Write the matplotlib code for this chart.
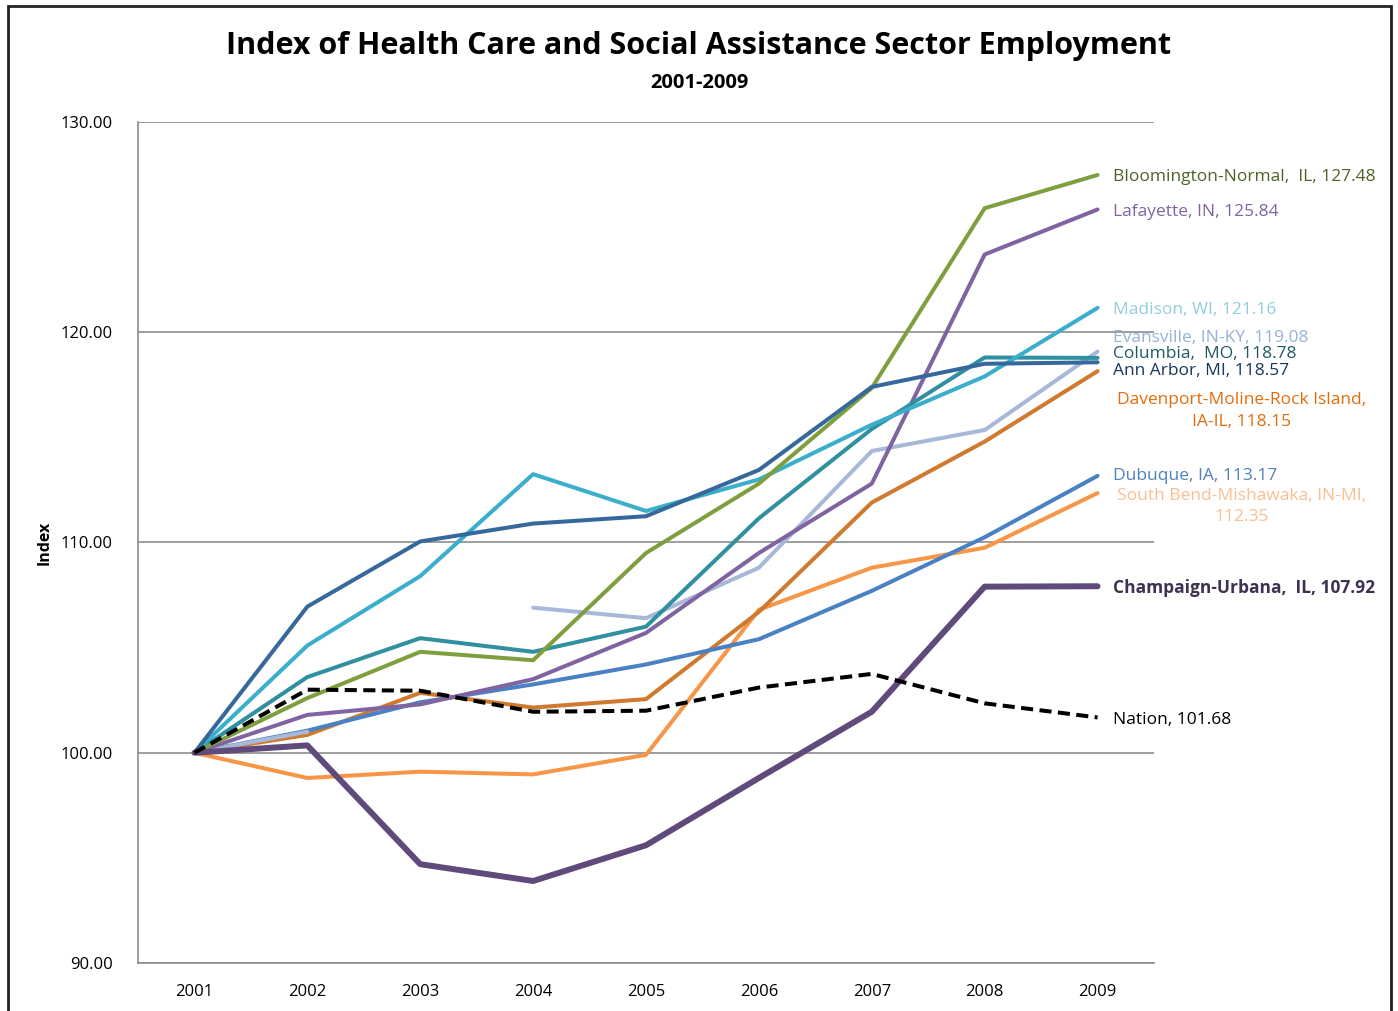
import numpy as np
import matplotlib
matplotlib.use("Agg")
import matplotlib.pyplot as plt
from matplotlib.patches import Rectangle

years = [2001, 2002, 2003, 2004, 2005, 2006, 2007, 2008, 2009]

bloomington = [100, 102.6, 104.8, 104.4, 109.5, 112.8, 117.35, 125.9, 127.48]
lafayette = [100, 101.8, 102.3, 103.5, 105.7, 109.5, 112.8, 123.7, 125.84]
madison = [100, 105.1, 108.4, 113.25, 111.5, 113.0, 115.6, 117.9, 121.16]
evansville = [100, 101.0, np.nan, 106.9, 106.4, 108.8, 114.35, 115.35, 119.08]
columbia = [100, 103.6, 105.45, 104.8, 106.0, 111.15, 115.4, 118.8, 118.78]
ann_arbor = [100, 106.95, 110.05, 110.9, 111.25, 113.45, 117.4, 118.5, 118.57]
davenport = [100, 100.85, 102.85, 102.15, 102.55, 106.7, 111.9, 114.8, 118.15]
dubuque = [100, 101.05, 102.4, 103.25, 104.2, 105.4, 107.7, 110.25, 113.17]
south_bend = [100, 98.8, 99.1, 98.97, 99.9, 106.8, 108.8, 109.75, 112.35]
champaign = [100, 100.35, 94.7, 93.9, 95.6, 98.8, 101.95, 107.9, 107.92]
nation = [100, 103.0, 102.95, 101.95, 102.0, 103.1, 103.75, 102.35, 101.68]

# (datos, color linea, texto, color texto, y etiqueta, grosor)
series = [
    (south_bend, '#f79646', 'South Bend-Mishawaka, IN-MI,\n112.35', '#fabf8f', 111.7, 2.9),
    (davenport, '#d07a30', 'Davenport-Moline-Rock Island,\nIA-IL, 118.15', '#e46c0a', 116.25, 2.9),
    (dubuque, '#4a81c4', 'Dubuque, IA, 113.17', '#4f81bd', 113.15, 2.9),
    (evansville, '#a7b8d8', 'Evansville, IN-KY, 119.08', '#95b3d7', 119.72, 2.9),
    (lafayette, '#8064a2', 'Lafayette, IN, 125.84', '#8064a2', 125.72, 2.9),
    (columbia, '#31909f', 'Columbia,  MO, 118.78', '#215967', 118.95, 2.9),
    (madison, '#3aaecb', 'Madison, WI, 121.16', '#92cddc', 121.05, 2.9),
    (bloomington, '#7f9f3f', 'Bloomington-Normal,  IL, 127.48', '#4f6228', 127.38, 2.9),
    (ann_arbor, '#36689c', 'Ann Arbor, MI, 118.57', '#17375e', 118.15, 2.9),
    (champaign, '#604a7b', 'Champaign-Urbana,  IL, 107.92', '#3f3151', 107.85, 4.3),
]

plt.rcParams['font.family'] = ['Open Sans', 'DejaVu Sans']

fig = plt.figure(figsize=(13.98, 10.11), dpi=100)
ax = fig.add_axes([138 / 1398, 1 - 963 / 1011, (1154 - 138) / 1398, (963 - 122) / 1011])

for datos, color, texto, tcolor, ylab, lw in series:
    ax.plot(years, datos, color=color, lw=lw, solid_capstyle='round', zorder=3)
    bold = 'bold' if texto.startswith('Champaign') else 'normal'
    ha = 'center' if '\n' in texto else 'left'
    xlab = 2010.28 if '\n' in texto else 2009.14
    ax.text(xlab, ylab, texto, color=tcolor, fontsize=12.5, ha=ha, va='center',
            fontweight=bold, linespacing=1.45, clip_on=False)

ax.plot(years, nation, color='black', lw=2.9, ls=(0, (3, 1.6)), zorder=4)
ax.text(2009.14, 101.55, 'Nation, 101.68', color='black', fontsize=12.5, va='center')

ax.set_xlim(2000.5, 2009.5)
ax.set_ylim(90, 130)
ax.set_xticks(years)
ax.set_yticks([90, 100, 110, 120, 130])
ax.set_yticklabels(['%.2f' % v for v in [90, 100, 110, 120, 130]])
ax.tick_params(length=0, labelsize=12, pad=18)
ax.tick_params(axis='x', pad=15)
ax.grid(axis='y', color='#8c8c8c', lw=1.2)
ax.set_axisbelow(True)
for lado in ['top', 'right']:
    ax.spines[lado].set_visible(False)
for lado in ['left', 'bottom']:
    ax.spines[lado].set_color('#8c8c8c')
    ax.spines[lado].set_linewidth(1.2)

ax.set_ylabel('Index', fontsize=11.5, fontweight='bold')
ax.yaxis.set_label_coords(-0.084, 0.5)

fig.text(0.5, 1 - 46 / 1011, 'Index of Health Care and Social Assistance Sector Employment',
         ha='center', va='center', fontsize=22, fontweight='bold')
fig.text(0.5, 1 - 83 / 1011, '2001-2009', ha='center', va='center', fontsize=14.5, fontweight='bold')

fig.patches.append(Rectangle((8 / 1398, -0.01), 1383 / 1398, 1 - 6 / 1011 + 0.01,
                             transform=fig.transFigure, fill=False, edgecolor='#222222', lw=2))

fig.savefig('out.png', dpi=100)
